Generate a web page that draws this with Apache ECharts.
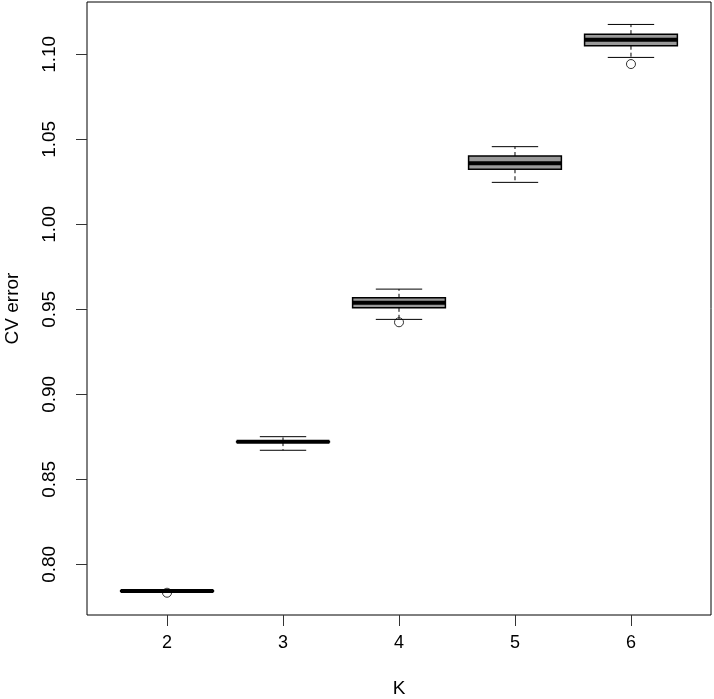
<!DOCTYPE html>
<html>
<head>
<meta charset="utf-8">
<script src="https://cdn.jsdelivr.net/npm/echarts@6/dist/echarts.min.js"></script>
<style>
html,body{margin:0;padding:0;background:#fff;}
#chart{width:714px;height:699px;}
</style>
</head>
<body>
<div id="chart"></div>
<script>
// ---- data ----
const categories = [2, 3, 4, 5, 6];
const lowerWhisker = [0.7840, 0.8671, 0.9441, 1.0247, 1.0982];
const q1 = [0.7842, 0.8719, 0.9509, 1.0324, 1.1051];
const median = [0.7843, 0.8721, 0.9539, 1.0359, 1.1086];
const q3 = [0.7844, 0.8723, 0.9568, 1.0402, 1.1119];
const upperWhisker = [0.7846, 0.8751, 0.9619, 1.0457, 1.1176];
const outlierK = [2, 4, 6];
const outlierValue = [0.7833, 0.9424, 1.0943];
const yTicks = [0.80, 0.85, 0.90, 0.95, 1.00, 1.05, 1.10];
const xTicks = [2, 3, 4, 5, 6];

const boxData = categories.map((k, i) => [k, lowerWhisker[i], q1[i], median[i], q3[i], upperWhisker[i]]);
const outlierData = outlierK.map((k, i) => [k, outlierValue[i]]);

const FONT = '"Liberation Sans", Arial, sans-serif';
const chart = echarts.init(document.getElementById('chart'), null, {renderer: 'canvas'});

function renderBox(params, api) {
  const x = api.value(0);
  const lo = api.coord([x, api.value(1)]);
  const b1 = api.coord([x, api.value(2)]);
  const md = api.coord([x, api.value(3)]);
  const b3 = api.coord([x, api.value(4)]);
  const hi = api.coord([x, api.value(5)]);
  const w = api.size([0.8, 0])[0];
  const cx = lo[0];
  const half = w / 2, capHalf = w / 4;
  const black = '#000';
  return {
    type: 'group',
    children: [
      {type: 'line', shape: {x1: cx, y1: b3[1], x2: cx, y2: hi[1]},
       style: {stroke: black, lineWidth: 1, lineDash: [4, 3]}},
      {type: 'line', shape: {x1: cx, y1: b1[1], x2: cx, y2: lo[1]},
       style: {stroke: black, lineWidth: 1, lineDash: [4, 3]}},
      {type: 'line', shape: {x1: cx - capHalf, y1: hi[1], x2: cx + capHalf, y2: hi[1]},
       style: {stroke: black, lineWidth: 1}},
      {type: 'line', shape: {x1: cx - capHalf, y1: lo[1], x2: cx + capHalf, y2: lo[1]},
       style: {stroke: black, lineWidth: 1}},
      {type: 'rect', shape: {x: cx - half, y: b3[1], width: w, height: b1[1] - b3[1]},
       style: {fill: '#999999', stroke: black, lineWidth: 1.5}},
      {type: 'line', shape: {x1: cx - half, y1: md[1], x2: cx + half, y2: md[1]},
       style: {stroke: black, lineWidth: 4}}
    ]
  };
}

const option = {
  animation: false,
  backgroundColor: '#fff',
  grid: {left: 87, right: 3, top: 2, bottom: 84, show: true, borderColor: '#000', borderWidth: 1,
         containLabel: false, outerBoundsMode: 'none'},
  xAxis: {
    type: 'value', min: 1.31, max: 6.69,
    name: 'K', nameLocation: 'middle', nameGap: 64,
    nameTextStyle: {fontFamily: FONT, fontSize: 19, color: '#000'},
    axisLine: {show: false},
    splitLine: {show: false},
    axisTick: {show: true, length: 11, customValues: xTicks, lineStyle: {color: '#333', width: 1}},
    axisLabel: {customValues: xTicks, margin: 19, fontFamily: FONT, fontSize: 18, color: '#000',
                formatter: v => String(v)}
  },
  yAxis: {
    type: 'value', min: 0.7702, max: 1.1308,
    name: 'CV error', nameLocation: 'middle', nameGap: 65, nameRotate: 90,
    nameTextStyle: {fontFamily: FONT, fontSize: 19, color: '#000'},
    axisLine: {show: false},
    splitLine: {show: false},
    axisTick: {show: true, length: 11, customValues: yTicks, lineStyle: {color: '#333', width: 1}},
    axisLabel: {customValues: yTicks, margin: 28, rotate: 90, fontFamily: FONT, fontSize: 19, color: '#000',
                formatter: v => v.toFixed(2)}
  },
  series: [
    {type: 'custom', renderItem: renderBox, data: boxData, encode: {x: 0, y: [1, 2, 3, 4, 5]}, clip: false},
    {type: 'scatter', data: outlierData, symbol: 'circle', symbolSize: 9,
     itemStyle: {color: 'rgba(0,0,0,0)', borderColor: '#000', borderWidth: 1}, z: 5}
  ]
};
chart.setOption(option);
</script>
</body>
</html>
